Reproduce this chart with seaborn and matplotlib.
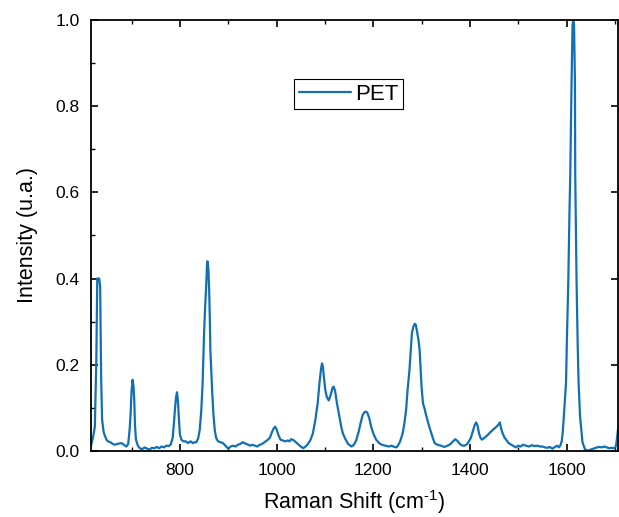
import matplotlib
matplotlib.use("Agg")
import matplotlib.pyplot as plt
from matplotlib.ticker import MultipleLocator
import seaborn as sns

# ---------------------------------------------------------------
# Raman spectrum of PET
# ---------------------------------------------------------------
raman_shift = [
    616, 620, 624, 627, 629, 631, 633, 635, 637, 639, 642, 644, 648, 651, 656,
    661, 665, 670, 675, 679, 684, 689, 693, 696, 698, 700, 702, 704, 705.5, 707,
    709, 713, 717, 722, 727, 732, 737, 742, 747, 752, 757, 762, 767, 772, 777,
    781, 785, 788, 790, 792, 794, 796, 798, 800, 803, 807, 812, 817, 822, 827,
    831, 834, 838, 841, 844, 847, 850, 852, 854, 856, 857, 859, 860.5, 862, 863,
    865, 866.6, 869, 872, 875, 879, 884, 889, 894, 900, 905, 910, 915, 920, 925,
    930, 935, 940, 945, 950, 955, 960, 965, 970, 975, 980, 986, 990, 994, 997,
    1000, 1004, 1008, 1013, 1018, 1023, 1027, 1030, 1035, 1040, 1045, 1050, 1055, 1060, 1065,
    1070, 1075, 1080, 1085, 1089, 1092, 1094, 1096, 1098, 1101, 1104, 1108, 1112, 1116, 1118,
    1121, 1125, 1130, 1134, 1137, 1142, 1148, 1155, 1160, 1165, 1170, 1174, 1178, 1182, 1185,
    1188, 1192, 1196, 1201, 1206, 1212, 1218, 1225, 1232, 1238, 1244, 1248, 1251, 1255, 1258,
    1261, 1265, 1268, 1271, 1275, 1278, 1280, 1283, 1286, 1288, 1291, 1294, 1296, 1298, 1300,
    1303, 1306, 1310, 1316, 1321, 1327, 1333, 1340, 1347, 1354, 1360, 1365, 1370, 1375, 1380,
    1385, 1389, 1394, 1398, 1402, 1406, 1410, 1413, 1416, 1419, 1422, 1425, 1430, 1437, 1443,
    1449, 1455, 1460, 1462, 1465, 1468, 1472, 1475, 1480, 1489, 1495, 1500, 1505, 1510, 1516,
    1522, 1528, 1534, 1540, 1545, 1550, 1555, 1560, 1565, 1571, 1576, 1581, 1584, 1587, 1590,
    1592, 1595, 1599, 1601, 1603.6, 1606, 1607.7, 1609, 1610.4, 1612.5, 1614, 1615.5, 1617.4, 1618, 1619.5,
    1620.8, 1623, 1624.9, 1628, 1633, 1638, 1643, 1648, 1653, 1658, 1663, 1668, 1673, 1678, 1683,
    1688, 1693, 1698, 1702, 1704, 1706, 1708,
]
intensity = [
    0.012, 0.030, 0.056, 0.210, 0.400, 0.400, 0.400, 0.380, 0.170, 0.072, 0.045, 0.037, 0.026, 0.022, 0.020,
    0.016, 0.014, 0.016, 0.017, 0.018, 0.014, 0.010, 0.016, 0.050, 0.087, 0.140, 0.165, 0.150, 0.118, 0.060,
    0.026, 0.012, 0.006, 0.004, 0.008, 0.005, 0.003, 0.007, 0.006, 0.009, 0.006, 0.010, 0.008, 0.012, 0.011,
    0.015, 0.030, 0.070, 0.100, 0.125, 0.136, 0.115, 0.072, 0.038, 0.026, 0.022, 0.022, 0.018, 0.022, 0.018,
    0.020, 0.020, 0.030, 0.049, 0.090, 0.157, 0.273, 0.330, 0.374, 0.430, 0.440, 0.420, 0.374, 0.300, 0.234,
    0.180, 0.142, 0.090, 0.049, 0.030, 0.022, 0.020, 0.018, 0.012, 0.005, 0.010, 0.012, 0.010, 0.014, 0.016,
    0.020, 0.017, 0.015, 0.012, 0.014, 0.012, 0.010, 0.014, 0.016, 0.020, 0.024, 0.030, 0.042, 0.052, 0.056,
    0.050, 0.036, 0.026, 0.024, 0.022, 0.024, 0.022, 0.027, 0.025, 0.020, 0.015, 0.010, 0.006, 0.010, 0.016,
    0.025, 0.040, 0.070, 0.110, 0.160, 0.190, 0.203, 0.195, 0.170, 0.140, 0.125, 0.117, 0.130, 0.147, 0.149,
    0.140, 0.110, 0.080, 0.055, 0.041, 0.028, 0.016, 0.010, 0.014, 0.025, 0.045, 0.065, 0.083, 0.090, 0.091,
    0.088, 0.075, 0.055, 0.038, 0.026, 0.018, 0.014, 0.012, 0.010, 0.012, 0.009, 0.008, 0.012, 0.020, 0.030,
    0.041, 0.068, 0.095, 0.140, 0.188, 0.240, 0.273, 0.288, 0.295, 0.293, 0.275, 0.255, 0.234, 0.190, 0.149,
    0.110, 0.099, 0.080, 0.056, 0.038, 0.018, 0.014, 0.012, 0.009, 0.012, 0.016, 0.022, 0.027, 0.022, 0.015,
    0.012, 0.012, 0.015, 0.022, 0.030, 0.045, 0.060, 0.066, 0.058, 0.040, 0.030, 0.026, 0.030, 0.037, 0.044,
    0.050, 0.056, 0.062, 0.066, 0.050, 0.040, 0.030, 0.026, 0.018, 0.012, 0.008, 0.012, 0.010, 0.014, 0.012,
    0.010, 0.013, 0.011, 0.012, 0.010, 0.010, 0.008, 0.007, 0.009, 0.005, 0.009, 0.012, 0.008, 0.012, 0.022,
    0.041, 0.090, 0.160, 0.270, 0.390, 0.550, 0.640, 0.750, 0.857, 0.990, 1.000, 0.990, 0.857, 0.640, 0.500,
    0.390, 0.250, 0.160, 0.080, 0.020, 0.004, 0.000, 0.002, 0.004, 0.006, 0.008, 0.009, 0.008, 0.010, 0.008,
    0.006, 0.007, 0.006, 0.010, 0.025, 0.045, 0.060,
]

LINE_COLOR = "#1170b5"

sns.set_style("ticks")
plt.rcParams["font.family"] = ["Liberation Sans", "DejaVu Sans"]
plt.rcParams["mathtext.fontset"] = "custom"
plt.rcParams["mathtext.rm"] = "Liberation Sans"
plt.rcParams["mathtext.it"] = "Liberation Sans"
for key in ["text.color", "axes.labelcolor", "xtick.color", "ytick.color"]:
    plt.rcParams[key] = "black"

fig = plt.figure(figsize=(6.19, 5.17), dpi=100)
ax = fig.add_axes([0.147, 0.128, 0.851, 0.833])

sns.lineplot(x=raman_shift, y=intensity, ax=ax, color=LINE_COLOR,
             linewidth=1.6, label="PET", estimator=None, sort=False)

ax.set_xlim(616, 1706)
ax.set_ylim(0, 1.0)
ax.xaxis.set_major_locator(MultipleLocator(200))
ax.xaxis.set_minor_locator(MultipleLocator(100))
ax.yaxis.set_major_locator(MultipleLocator(0.2))
ax.yaxis.set_minor_locator(MultipleLocator(0.1))

ax.tick_params(which="major", direction="in", length=5, width=1.2,
               labelsize=12.5, top=True, right=True, colors="black")
ax.tick_params(which="minor", direction="in", length=3, width=1.0,
               top=True, right=False)
ax.tick_params(axis="x", which="major", pad=9)
ax.tick_params(axis="y", which="major", pad=8)
for side in ax.spines.values():
    side.set_linewidth(1.3)
    side.set_color("black")

ax.set_xlabel("Raman Shift (cm$^{\\text{-1}}$)", fontsize=15.5, labelpad=7)
ax.set_ylabel("Intensity (u.a.)", fontsize=15.5, labelpad=13)

leg = ax.legend(loc="upper left", bbox_to_anchor=(0.386, 0.863),
                borderaxespad=0, fontsize=16, frameon=True, fancybox=False,
                handlelength=2.35, handletextpad=0.2, borderpad=0.2)
leg.get_frame().set_edgecolor("black")
leg.get_frame().set_linewidth(0.8)
leg.get_frame().set_alpha(1)

fig.savefig("out.png", dpi=100)
